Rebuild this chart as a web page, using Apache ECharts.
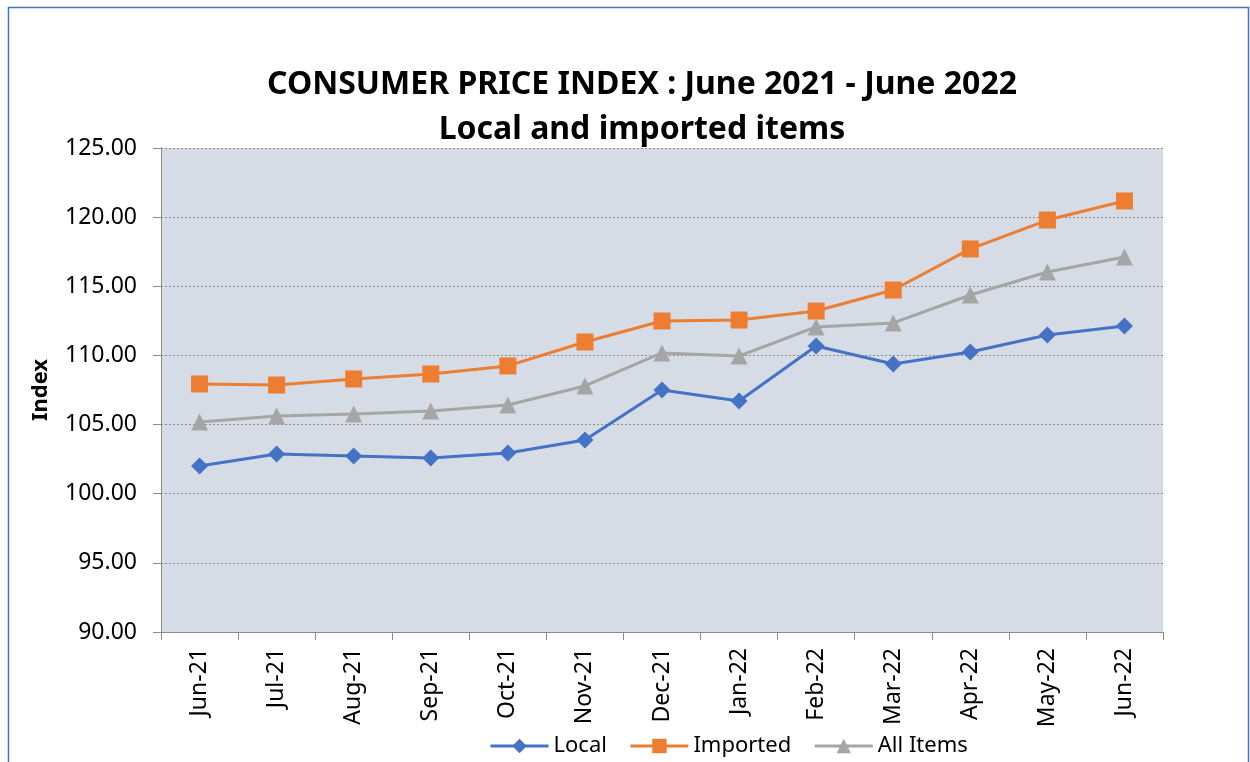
<!DOCTYPE html>
<html><head><meta charset="utf-8">
<script src="https://cdn.jsdelivr.net/npm/echarts@6/dist/echarts.min.js"></script>
<style>html,body{margin:0;padding:0;background:#fff;}#c{width:1250px;height:762px;}</style>
</head><body><div id="c"></div>
<script>
const categories = ['Jun-21','Jul-21','Aug-21','Sep-21','Oct-21','Nov-21','Dec-21','Jan-22','Feb-22','Mar-22','Apr-22','May-22','Jun-22'];
const localValues = [102.00, 102.87, 102.73, 102.58, 102.95, 103.89, 107.50, 106.70, 110.68, 109.38, 110.25, 111.48, 112.13];
const importedValues = [107.94, 107.86, 108.30, 108.66, 109.24, 110.97, 112.49, 112.56, 113.21, 114.73, 117.70, 119.79, 121.17];
const allItemsValues = [105.19, 105.62, 105.77, 105.98, 106.42, 107.79, 110.18, 109.96, 112.06, 112.35, 114.37, 116.03, 117.12];

const font = 'Noto Sans';
const chart = echarts.init(document.getElementById('c'));
chart.setOption({
  animation: false,
  backgroundColor: '#fff',
  textStyle: {fontFamily: font},
  graphic: [{
    type: 'rect', shape: {x: 8.5, y: 7.5, width: 1240, height: 770},
    style: {fill: 'none', stroke: '#4472C4', lineWidth: 1.5}, silent: true
  }],
  title: {
    text: 'CONSUMER PRICE INDEX : June 2021 - June 2022\nLocal and imported items',
    left: 637, top: 57, textAlign: 'center',
    textStyle: {fontFamily: font, fontWeight: 'bold', fontSize: 32, lineHeight: 45, color: '#000'}
  },
  legend: {
    bottom: 0, left: 484, itemGap: 22, itemWidth: 58, itemHeight: 18,
    lineStyle: {width: 3},
    textStyle: {fontFamily: font, fontSize: 22, color: '#000'},
    data: ['Local','Imported','All Items']
  },
  grid: {left: 161, right: 87, top: 148, bottom: 130, show: true, backgroundColor: '#D6DCE5', borderWidth: 0},
  xAxis: {
    type: 'category', data: categories, boundaryGap: true,
    axisLine: {lineStyle: {color: '#8c8c8c', width: 1}},
    axisTick: {show: true, interval: 0, length: 8, lineStyle: {color: '#8c8c8c'}},
    axisLabel: {rotate: 90, interval: 0, fontFamily: font, fontSize: 23, color: '#000', margin: 16}
  },
  yAxis: {
    type: 'value', min: 90, max: 125, interval: 5,
    name: 'Index', nameLocation: 'middle', nameGap: 109,
    nameTextStyle: {fontFamily: font, fontWeight: 'bold', fontSize: 22, color: '#000'},
    axisLine: {show: true, lineStyle: {color: '#8c8c8c', width: 1}},
    axisTick: {show: true, length: 8, lineStyle: {color: '#8c8c8c'}},
    axisLabel: {fontFamily: font, fontSize: 23, color: '#000', margin: 24, formatter: v => v.toFixed(2)},
    splitLine: {show: true, lineStyle: {color: '#8c8c8c', type: [2, 2], width: 1}}
  },
  series: [
    {name: 'Local', type: 'line', data: localValues, symbol: 'diamond', symbolSize: 17,
     lineStyle: {color: '#4472C4', width: 3}, itemStyle: {color: '#4472C4'}},
    {name: 'Imported', type: 'line', data: importedValues, symbol: 'rect', symbolSize: 17,
     lineStyle: {color: '#ED7D31', width: 3}, itemStyle: {color: '#ED7D31'}},
    {name: 'All Items', type: 'line', data: allItemsValues, symbol: 'triangle', symbolSize: 17,
     lineStyle: {color: '#A5A5A5', width: 3}, itemStyle: {color: '#A5A5A5'}}
  ]
});
</script></body></html>
